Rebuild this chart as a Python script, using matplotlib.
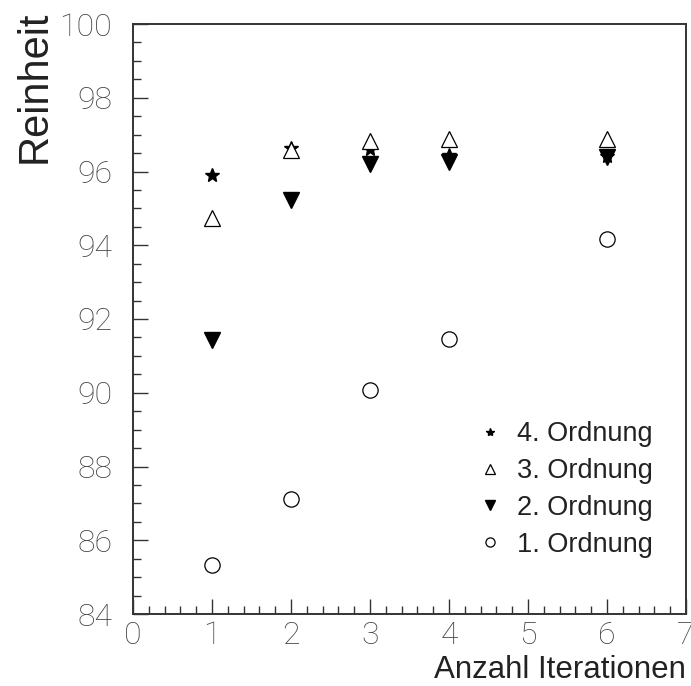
import matplotlib.pyplot as plt
from matplotlib.ticker import MultipleLocator

# Reinheit je Ordnung gegen Anzahl Iterationen
iterationen = [1, 2, 3, 4, 6]
ordnung4 = [95.9, 96.65, 96.62, 96.46, 96.43]
ordnung3 = [94.75, 96.57, 96.84, 96.87, 96.89]
ordnung2 = [91.44, 95.24, 96.19, 96.27, 96.40]
ordnung1 = [85.33, 87.12, 90.08, 91.46, 94.18]

plt.rcParams['font.family'] = ['Liberation Sans', 'DejaVu Sans']

fig = plt.figure(figsize=(6.91, 6.86), dpi=100)
ax = fig.add_axes([133 / 691, 72 / 686, 553 / 691, 590 / 686])

ax.plot(iterationen, ordnung4, linestyle='none', marker='*', ms=10, color='black',
        label='4. Ordnung')
ax.plot(iterationen, ordnung3, linestyle='none', marker='^', ms=11, mfc='white',
        mec='black', mew=0.9, label='3. Ordnung')
ax.plot(iterationen, ordnung2, linestyle='none', marker='v', ms=11, color='black',
        label='2. Ordnung')
ax.plot(iterationen, ordnung1, linestyle='none', marker='o', ms=11, mfc='none',
        mec='black', mew=0.9, label='1. Ordnung')

ax.set_xlim(0, 7)
ax.set_ylim(84, 100)
ax.xaxis.set_major_locator(MultipleLocator(1))
ax.xaxis.set_minor_locator(MultipleLocator(0.2))
ax.yaxis.set_major_locator(MultipleLocator(2))
ax.yaxis.set_minor_locator(MultipleLocator(0.5))

ax.tick_params(which='both', direction='in', color='#333333', width=1.0,
               top=False, right=False)
ax.tick_params(which='major', length=11, labelsize=23, labelcolor='#444444')
ax.tick_params(axis='x', which='major', pad=5)
ax.tick_params(axis='y', which='major', pad=15)
ax.tick_params(which='minor', length=6)
for lab in ax.get_xticklabels() + ax.get_yticklabels():
    lab.set_family('Roboto')
    lab.set_fontweight('light')
for sp in ax.spines.values():
    sp.set_color('#333333')
    sp.set_linewidth(1.4)

ax.set_xlabel('Anzahl Iterationen', fontsize=22.5, color='#222222', loc='right', labelpad=4)
fig.text(35 / 691, 1 - 11 / 686, 'Reinheit', rotation=90, ha='center', va='top',
         fontsize=30, color='#222222')

leg = ax.legend(loc='lower right', bbox_to_anchor=(0.984, 0.054), frameon=False,
                fontsize=19.5, handletextpad=0.5, labelspacing=0.4, markerscale=0.6,
                handlelength=1.0, labelcolor='#222222')

fig.savefig('out.png', dpi=100)
